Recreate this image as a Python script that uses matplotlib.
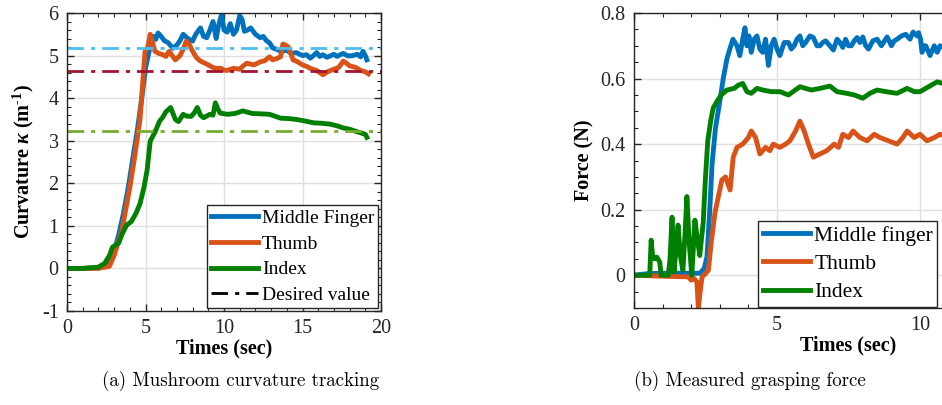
import matplotlib
matplotlib.use("Agg")
import matplotlib.pyplot as plt
from matplotlib.ticker import MultipleLocator

plt.rcParams['font.family'] = ['Liberation Serif', 'DejaVu Serif']
plt.rcParams['mathtext.fontset'] = 'custom'
plt.rcParams['mathtext.rm'] = 'Liberation Serif:bold'
plt.rcParams['mathtext.it'] = 'Liberation Serif:italic:bold'
plt.rcParams['mathtext.bf'] = 'Liberation Serif:bold'
plt.rcParams['axes.unicode_minus'] = False

# ---- (a) curvature tracking ----
mid_t = [0, 1, 2, 2.5, 3.0, 3.3, 3.6, 3.9, 4.2, 4.5, 4.8, 5.0, 5.2, 5.35, 5.5, 5.65, 5.8, 6.0,
         6.2, 6.45, 6.75, 7.0, 7.2, 7.4, 7.7, 8.0, 8.2, 8.5, 8.7, 8.9, 9.1, 9.3, 9.5, 9.65,
         9.85, 10.0, 10.2, 10.4, 10.6, 10.8, 11.0, 11.15, 11.3, 11.5, 11.7, 12.0, 12.3,
         12.5, 12.7, 12.9, 13.1, 13.35, 13.6, 14.0, 14.3, 14.6, 15.0, 15.25, 15.5, 15.7,
         15.9, 16.1, 16.3, 16.55, 16.75, 17.0, 17.2, 17.4, 17.6, 17.9, 18.2, 18.5, 18.7,
         18.85, 19.0, 19.1]
mid_k = [0, 0, 0.02, 0.1, 0.4, 0.8, 1.3, 1.9, 2.6, 3.3, 4.1, 4.7, 5.05, 5.3, 5.45, 5.38, 5.53, 5.45,
         5.35, 5.3, 5.17, 5.25, 5.35, 5.5, 5.4, 5.34, 5.5, 5.65, 5.45, 5.42, 5.6, 5.8, 5.4, 5.7,
         5.97, 5.6, 5.55, 5.75, 5.5, 5.6, 5.94, 5.85, 5.57, 5.6, 5.65, 5.5, 5.42,
         5.45, 5.35, 5.3, 5.18, 5.15, 5.1, 5.12, 5.05, 5.07, 5.0, 5.02, 4.94, 5.0,
         5.07, 4.98, 5.02, 4.96, 4.99, 5.03, 4.98, 5.02, 5.05, 4.99, 5.0, 5.03, 4.97,
         5.1, 5.0, 4.9]

thumb_t = [0, 1, 2, 2.7, 3.0, 3.5, 4.0, 4.3, 4.65, 4.97, 5.15, 5.3, 5.45, 5.6, 5.85, 6.1,
           6.3, 6.5, 6.7, 6.9, 7.2, 7.4, 7.6, 7.8, 8.0, 8.25, 8.5, 8.9, 9.3, 9.5, 9.8,
           10.0, 10.2, 10.6, 11.0, 11.2, 11.45, 11.9, 12.3, 12.6, 12.9, 13.1, 13.3, 13.6,
           13.75, 13.9, 14.1, 14.4, 14.7, 15.0, 15.3, 15.5, 15.9, 16.3, 16.6, 17.0,
           17.3, 17.6, 17.8, 18.0, 18.4, 18.7, 19.0, 19.2]
thumb_k = [0, 0, 0, 0.05, 0.3, 0.9, 1.9, 2.6, 3.5, 5.1, 5.2, 5.5, 5.3, 5.1, 5.05, 5.02,
           4.98, 5.1, 5.0, 4.9, 5.0, 5.15, 5.34, 5.25, 5.1, 4.95, 4.87, 4.8, 4.72, 4.7, 4.7,
           4.66, 4.65, 4.7, 4.68, 4.75, 4.82, 4.78, 4.85, 4.88, 4.97, 4.9, 4.92, 4.97,
           5.27, 5.25, 5.2, 4.9, 4.85, 4.78, 4.74, 4.7, 4.65, 4.55, 4.62, 4.68,
           4.72, 4.87, 4.82, 4.76, 4.72, 4.65, 4.62, 4.57]

index_t = [0, 1, 2, 2.4, 2.7, 2.9, 3.1, 3.3, 3.5, 3.8, 4.1, 4.4, 4.65, 4.9, 5.1, 5.3,
           5.6, 5.9, 6.1, 6.3, 6.6, 6.9, 7.1, 7.4, 7.6, 7.9, 8.1, 8.3, 8.5, 8.7, 8.9,
           9.1, 9.3, 9.45, 9.6, 9.75, 10.2, 10.7, 11.2, 11.8, 12.4, 12.9, 13.6, 14.1,
           14.6, 15.2, 15.7, 16.2, 16.75, 17.2, 17.6, 18.0, 18.4, 19.0, 19.1]
index_k = [0, 0, 0.03, 0.12, 0.3, 0.5, 0.55, 0.6, 0.8, 1.02, 1.1, 1.3, 1.52, 1.9, 2.3, 2.99,
           3.2, 3.46, 3.55, 3.68, 3.78, 3.5, 3.45, 3.62, 3.58, 3.57, 3.65, 3.78, 3.6, 3.54,
           3.58, 3.62, 3.6, 3.89, 3.75, 3.65, 3.62, 3.64, 3.7, 3.64, 3.63, 3.62, 3.53,
           3.52, 3.5, 3.46, 3.42, 3.41, 3.39, 3.35, 3.3, 3.27, 3.22, 3.15, 3.08]

desired = [5.17, 4.63, 3.22]
desired_colors = ['#4DBEEE', '#A2142F', '#77AC30']

# ---- (b) grasping force ----
fmid_t = [0, 0.5, 1.0, 2.3, 2.45, 2.55, 2.65, 2.73, 2.85, 3.0, 3.12, 3.25, 3.35, 3.46, 3.6,
          3.7, 3.8, 3.88, 3.95, 4.02, 4.1, 4.2, 4.3, 4.4, 4.5, 4.6, 4.7, 4.8, 4.9, 5.0,
          5.1, 5.25, 5.4, 5.5, 5.6, 5.7, 5.8, 5.9, 6.0, 6.15, 6.27, 6.4, 6.5, 6.6, 6.7,
          6.85, 6.97, 7.1, 7.2, 7.3, 7.4, 7.5, 7.6, 7.7, 7.8, 7.9, 8.0, 8.1, 8.2, 8.35,
          8.5, 8.65, 8.85, 8.95, 9.0, 9.1, 9.2, 9.35, 9.5, 9.65, 9.76, 9.9, 9.95, 10.02,
          10.07, 10.15, 10.2, 10.35, 10.5, 10.6, 10.7, 11.0]
fmid_f = [0, 0.005, 0.006, 0.006, 0.02, 0.055, 0.2, 0.34, 0.45, 0.53, 0.6, 0.66, 0.69, 0.72, 0.7,
          0.67, 0.72, 0.755, 0.7, 0.73, 0.68, 0.72, 0.73, 0.69, 0.68, 0.72, 0.64, 0.7, 0.72, 0.69,
          0.67, 0.71, 0.71, 0.69, 0.7, 0.72, 0.73, 0.7, 0.71, 0.73, 0.725, 0.7, 0.7, 0.71, 0.715,
          0.7, 0.687, 0.72, 0.71, 0.695, 0.72, 0.7, 0.7, 0.715, 0.725, 0.71, 0.727, 0.7, 0.69, 0.715,
          0.72, 0.7, 0.727, 0.71, 0.7, 0.715, 0.72, 0.73, 0.735, 0.72, 0.742, 0.73, 0.74, 0.72,
          0.68, 0.7, 0.7, 0.67, 0.7, 0.68, 0.7, 0.69]

fthumb_t = [0, 1.0, 1.9, 2.0, 2.1, 2.2, 2.25, 2.3, 2.38, 2.5, 2.6, 2.7, 2.83, 2.95, 3.07,
            3.2, 3.36, 3.47, 3.6, 3.8, 4.0, 4.1, 4.25, 4.4, 4.6, 4.75, 4.87, 5.1, 5.3,
            5.45, 5.65, 5.8, 5.95, 6.1, 6.27, 6.5, 6.74, 7.0, 7.15, 7.3, 7.5, 7.66, 7.9,
            8.15, 8.4, 8.6, 8.9, 9.2, 9.4, 9.55, 9.8, 10.0, 10.24, 10.5, 10.7, 11.0]
fthumb_f = [0, -0.003, -0.005, -0.015, -0.01, -0.02, -0.1, -0.06, -0.005, 0.005, 0.015, 0.1, 0.19, 0.24, 0.29,
            0.3, 0.26, 0.36, 0.39, 0.4, 0.42, 0.44, 0.42, 0.37, 0.39, 0.38, 0.4, 0.39, 0.4,
            0.41, 0.44, 0.47, 0.44, 0.4, 0.36, 0.37, 0.38, 0.4, 0.39, 0.43, 0.42, 0.44, 0.42,
            0.41, 0.43, 0.42, 0.41, 0.4, 0.42, 0.44, 0.42, 0.43, 0.41, 0.42, 0.43, 0.42]

findex_t = [0, 0.55, 0.6, 0.65, 0.72, 0.8, 0.9, 0.95, 1.2, 1.26, 1.33, 1.4, 1.47, 1.54, 1.62,
            1.71, 1.78, 1.85, 1.93, 2.02, 2.08, 2.13, 2.2, 2.3, 2.37, 2.42, 2.5, 2.58, 2.68,
            2.77, 2.9, 3.05, 3.25, 3.5, 3.65, 3.8, 3.95, 4.1, 4.3, 4.5, 4.8, 5.1, 5.4, 5.8,
            6.2, 6.5, 6.85, 7.1, 7.43, 7.7, 8.0, 8.25, 8.5, 8.8, 9.2, 9.55, 9.8, 10.0, 10.3,
            10.6, 11.0]
findex_f = [0, 0, 0.107, 0.06, 0.05, 0.055, 0.04, 0, 0, 0.05, 0.177, 0.01, 0.08, 0.153, 0.06,
            0.015, 0.12, 0.24, 0.1, 0, 0.09, 0.168, 0.12, 0.06, 0.12, 0.16, 0.3, 0.41, 0.47,
            0.51, 0.53, 0.55, 0.565, 0.57, 0.58, 0.585, 0.56, 0.555, 0.57, 0.565, 0.56, 0.56, 0.55, 0.575,
            0.565, 0.57, 0.577, 0.56, 0.555, 0.55, 0.54, 0.555, 0.565, 0.56, 0.555, 0.57, 0.56, 0.56, 0.575,
            0.59, 0.58]

blue = '#0072BD'
orange = '#D95319'
green = '#008000'
lw = 3.5

fig = plt.figure(figsize=(9.42, 4.05), dpi=100)


def style_axes(ax):
    ax.tick_params(which='both', direction='in', top=True, right=True, labelsize=14.5,
                   colors='#262626', pad=6)
    ax.tick_params(which='major', length=5, width=1)
    ax.tick_params(which='minor', length=3, width=0.8)
    ax.grid(True, which='major', color='#E0E0E0', lw=1)
    ax.set_axisbelow(True)
    for s in ax.spines.values():
        s.set_color('#262626')
        s.set_linewidth(1)


# panel a
ax1 = fig.add_axes([67 / 942, 94 / 405, 314 / 942, 298 / 405])
ax1.plot(mid_t, mid_k, color=blue, lw=lw, label='Middle Finger', solid_joinstyle='round')
ax1.plot(thumb_t, thumb_k, color=orange, lw=lw, label='Thumb', solid_joinstyle='round')
ax1.plot(index_t, index_k, color=green, lw=lw, label='Index', solid_joinstyle='round')
for val, c in zip(desired, desired_colors):
    ax1.axhline(val, color=c, lw=2, ls='-.', dashes=(6, 2.5, 1.5, 2.5))
ax1.plot([], [], color='black', lw=2, ls='-.', dashes=(6, 2.5, 1.5, 2.5), label='Desired value')
ax1.set_xlim(0, 20)
ax1.set_ylim(-1, 6)
ax1.xaxis.set_major_locator(MultipleLocator(5))
ax1.xaxis.set_minor_locator(MultipleLocator(1))
ax1.yaxis.set_major_locator(MultipleLocator(1))
ax1.yaxis.set_minor_locator(MultipleLocator(0.2))
style_axes(ax1)
ax1.set_xlabel('Times (sec)', fontsize=14.5, fontweight='bold', labelpad=0)
ax1.set_ylabel(r'Curvature $\kappa$ (m$^{\text{-1}}$)', fontsize=14.5, fontweight='bold', labelpad=4)
leg1 = ax1.legend(loc='lower right', fontsize=14, handlelength=2.4, handletextpad=0.2,
                  borderaxespad=0.15, borderpad=0.2, labelspacing=0.42, fancybox=False,
                  framealpha=1, edgecolor='#262626')
leg1.get_frame().set_linewidth(1)

# panel b (cut off at the right edge)
ax2 = fig.add_axes([634 / 942, 97 / 405, 429 / 942, 295 / 405])
ax2.plot(fmid_t, fmid_f, color=blue, lw=lw, label='Middle finger', solid_joinstyle='round')
ax2.plot(fthumb_t, fthumb_f, color=orange, lw=lw, label='Thumb', solid_joinstyle='round')
ax2.plot(findex_t, findex_f, color=green, lw=lw, label='Index', solid_joinstyle='round')
ax2.set_xlim(0, 15)
ax2.set_ylim(-0.1, 0.8)
ax2.xaxis.set_major_locator(MultipleLocator(5))
ax2.xaxis.set_minor_locator(MultipleLocator(1))
ax2.yaxis.set_major_locator(MultipleLocator(0.2))
ax2.yaxis.set_minor_locator(MultipleLocator(0.05))
ax2.yaxis.set_major_formatter(plt.FuncFormatter(lambda v, p: '0' if abs(v) < 1e-9 else f'{v:.1f}'))
style_axes(ax2)
ax2.set_xlabel('Times (sec)', fontsize=14.5, fontweight='bold', labelpad=0)
ax2.set_ylabel('Force (N)', fontsize=14.5, fontweight='bold', labelpad=4)
leg2 = ax2.legend(loc='lower left', bbox_to_anchor=(0.29, 0.005), fontsize=15.5, handlelength=2.2,
                  handletextpad=0.2, borderaxespad=0, borderpad=0.2, labelspacing=0.38,
                  fancybox=False, framealpha=1, edgecolor='#262626')
leg2.get_frame().set_linewidth(1)

fig.text(241 / 942, 1 - 381 / 405, '(a) Mushroom curvature tracking', family='cmr10',
         fontsize=13.6, ha='center', va='center')
fig.text(750 / 942, 1 - 381 / 405, '(b) Measured grasping force', family='cmr10',
         fontsize=13.6, ha='center', va='center')

fig.savefig('out.png', dpi=100)
